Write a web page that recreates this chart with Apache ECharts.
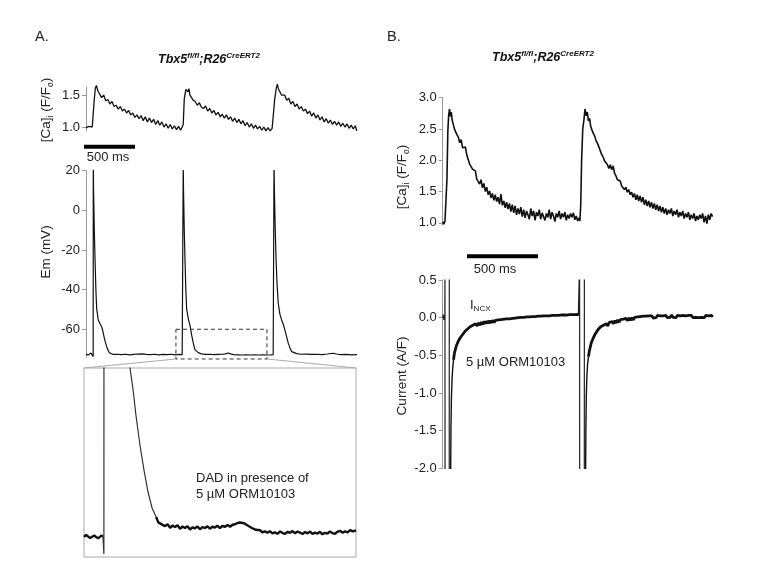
<!DOCTYPE html>
<html>
<head>
<meta charset="utf-8">
<script src="https://cdn.jsdelivr.net/npm/echarts@6/dist/echarts.min.js"></script>
<style>
html,body{margin:0;padding:0;background:#fff;}
#chart{width:757px;height:577px;}
</style>
</head>
<body>
<div id="chart"></div>
<script>
// ---------- DATA (time in ms) ----------
// Panel A: Ca transient [ms, F/Fo]
const caATrace = [[0,1.00],[15,0.97],[30,1.02],[45,0.99],[60,1.01],[70,1.02],[80,1.45],[90,1.62],[100,1.66],[115,1.57],[130,1.53],[150,1.47],[170,1.51],[190,1.42],[210,1.44],[230,1.37],[250,1.41],[270,1.33],[290,1.35],[310,1.29],[330,1.33],[350,1.26],[370,1.29],[390,1.23],[410,1.27],[430,1.20],[450,1.23],[470,1.16],[490,1.20],[510,1.14],[530,1.19],[550,1.11],[570,1.17],[590,1.09],[610,1.15],[630,1.08],[650,1.13],[670,1.05],[690,1.11],[710,1.04],[730,1.09],[750,1.01],[770,1.06],[790,0.99],[810,1.05],[830,0.98],[850,1.03],[870,0.97],[890,1.02],[910,0.96],[925,0.94],[935,1.05],[945,1.45],[960,1.60],[970,1.63],[980,1.56],[990,1.61],[1000,1.51],[1015,1.49],[1030,1.43],[1050,1.41],[1070,1.35],[1090,1.39],[1110,1.32],[1130,1.30],[1150,1.34],[1170,1.26],[1190,1.30],[1210,1.23],[1230,1.27],[1250,1.20],[1270,1.24],[1290,1.17],[1310,1.21],[1330,1.15],[1350,1.20],[1370,1.13],[1390,1.17],[1410,1.10],[1430,1.15],[1450,1.08],[1470,1.13],[1490,1.06],[1510,1.11],[1530,1.03],[1550,1.08],[1570,1.01],[1590,1.06],[1610,0.99],[1630,1.04],[1650,0.98],[1670,1.02],[1690,0.96],[1710,1.01],[1730,0.95],[1750,1.00],[1770,0.95],[1790,0.99],[1805,1.02],[1815,1.45],[1830,1.62],[1840,1.68],[1850,1.61],[1865,1.59],[1880,1.51],[1895,1.50],[1910,1.51],[1930,1.43],[1950,1.46],[1970,1.37],[1990,1.41],[2010,1.33],[2030,1.37],[2050,1.29],[2070,1.33],[2090,1.26],[2110,1.29],[2130,1.22],[2150,1.26],[2170,1.18],[2190,1.23],[2210,1.15],[2230,1.20],[2250,1.12],[2270,1.17],[2290,1.09],[2310,1.14],[2330,1.07],[2350,1.12],[2370,1.05],[2390,1.10],[2410,1.04],[2430,1.09],[2450,1.02],[2470,1.07],[2490,1.01],[2510,1.06],[2530,0.99],[2550,1.04],[2570,0.98],[2590,1.03],[2603,0.95]];
const caATicks = [1.0, 1.5];
const scaleBarA = [[-29,0.70],[471,0.70]];

// Panel A: membrane potential [ms, mV]
const emATrace = [[0,-72.7],[12,-72.5],[24,-72.9],[36,-72.4],[48,-72.0],[58,-72.3],[66,-72.9],[69,-73.8],[70,24],[73,10],[80,-10],[87,-25],[95,-40],[103,-50],[118,-55.3],[135,-57.2],[151,-58.7],[162,-61],[173,-63.7],[186,-66.5],[199,-68.8],[212,-70.6],[224,-71.8],[245,-72.4],[265,-72.7],[300,-72.6],[340,-72.8],[380,-72.6],[420,-72.9],[460,-72.7],[500,-72.5],[540,-72.4],[580,-72.7],[620,-72.8],[660,-72.6],[700,-72.9],[740,-72.7],[780,-72.8],[820,-72.6],[860,-72.9],[900,-72.7],[925,-72.8],[933,-73.8],[935,24],[938,10],[945,-10],[952,-25],[960,-40],[968,-50],[985,-55],[1000,-58],[1016,-63],[1032,-67],[1048,-70.4],[1080,-71.8],[1110,-72.4],[1150,-72.7],[1190,-72.6],[1230,-72.8],[1270,-72.7],[1310,-72.6],[1340,-72.4],[1367,-72.0],[1390,-72.4],[1420,-72.8],[1460,-72.9],[1500,-73],[1540,-72.9],[1580,-73],[1620,-72.9],[1660,-73],[1700,-72.9],[1740,-73],[1780,-72.9],[1800,-72.8],[1806,-73.8],[1808,24],[1812,10],[1820,-10],[1828,-25],[1838,-38],[1849,-47],[1865,-52.5],[1881,-55.3],[1897,-57.5],[1913,-60.4],[1930,-64],[1945,-67],[1962,-69.5],[1978,-71.3],[2026,-72.3],[2070,-72.6],[2120,-72.5],[2170,-72.7],[2220,-72.6],[2270,-72.8],[2320,-72.5],[2375,-72.1],[2410,-72.5],[2450,-72.8],[2500,-72.7],[2550,-72.9],[2606,-72.8]];
const emATicks = [20, 0, -20, -40, -60];
const zoomBox = [[865,-60],[1740,-60],[1740,-75],[865,-75],[865,-60]];

// Inset (zoom of the dashed box) [ms, mV]
const insetBaselineBefore = [[865,-73.41],[872,-73.25],[878,-73.36],[885,-73.50],[891,-73.42],[898,-73.30],[904,-73.38],[910,-73.52],[916,-73.44],[921,-73.30],[926,-73.37]];
const insetSpike = [[926,-73.37],[929,-74.76],[930,25],[1013,-60],[1023,-61.75],[1032,-63.73],[1045,-66.11],[1058,-68.1],[1071,-69.84],[1084,-71.11],[1097,-71.83]];
const insetBaselineAfter = [[1097,-71.83],[1104,-72.25],[1110,-72.15],[1118,-72.45],[1126,-72.55],[1134,-72.40],[1142,-72.68],[1150,-72.50],[1158,-72.62],[1166,-72.48],[1174,-72.76],[1182,-72.58],[1190,-72.70],[1198,-72.56],[1206,-72.82],[1214,-72.64],[1222,-72.72],[1230,-72.58],[1238,-72.80],[1246,-72.62],[1254,-72.70],[1262,-72.56],[1270,-72.76],[1278,-72.60],[1286,-72.66],[1294,-72.52],[1302,-72.70],[1310,-72.54],[1319,-72.60],[1327,-72.46],[1335,-72.60],[1343,-72.44],[1351,-72.40],[1359,-72.30],[1367,-72.26],[1373,-72.36],[1380,-72.32],[1386,-72.46],[1393,-72.52],[1399,-72.62],[1405,-72.70],[1411,-72.80],[1418,-72.84],[1424,-72.94],[1431,-72.88],[1439,-73.04],[1447,-72.96],[1455,-73.08],[1463,-72.96],[1471,-73.12],[1479,-73.04],[1487,-73.16],[1496,-72.98],[1504,-73.10],[1512,-73.16],[1520,-73.00],[1528,-73.08],[1536,-72.94],[1544,-73.12],[1552,-72.98],[1560,-73.06],[1568,-73.18],[1576,-73.02],[1584,-73.12],[1592,-72.98],[1600,-73.16],[1608,-73.06],[1616,-73.14],[1624,-73.00],[1632,-73.20],[1640,-73.08],[1648,-73.14],[1656,-72.98],[1664,-73.10],[1672,-73.16],[1680,-73.00],[1689,-72.92],[1697,-73.08],[1705,-72.96],[1713,-73.04],[1721,-72.86],[1730,-72.96],[1740,-72.90]];

// Panel B: Ca transient [ms, F/Fo]
const caBTrace = [[0,1.02],[8,0.98],[16,1.03],[24,1.05],[30,1.70],[36,2.45],[42,2.72],[48,2.82],[54,2.70],[60,2.77],[68,2.63],[76,2.61],[84,2.49],[92,2.47],[100,2.41],[110,2.37],[120,2.28],[130,2.33],[140,2.20],[150,2.19],[160,2.21],[170,2.08],[180,2.07],[190,1.94],[200,1.93],[210,1.86],[220,1.84],[230,1.83],[240,1.70],[250,1.72],[260,1.62],[270,1.69],[280,1.56],[290,1.63],[300,1.50],[310,1.57],[320,1.45],[330,1.51],[340,1.40],[350,1.47],[360,1.36],[370,1.45],[380,1.34],[390,1.41],[400,1.30],[410,1.46],[420,1.28],[430,1.35],[440,1.24],[450,1.33],[460,1.22],[470,1.31],[480,1.18],[490,1.29],[500,1.16],[510,1.27],[520,1.13],[530,1.23],[540,1.14],[550,1.25],[560,1.10],[570,1.21],[580,1.08],[590,1.19],[600,1.13],[610,1.06],[620,1.23],[630,1.11],[640,1.19],[650,1.04],[660,1.17],[670,1.11],[680,1.21],[690,1.06],[700,1.16],[710,1.19],[720,1.04],[730,1.15],[740,1.09],[750,1.21],[760,1.06],[770,1.17],[780,1.11],[790,1.02],[800,1.15],[810,1.09],[820,1.19],[830,1.06],[840,1.15],[850,1.09],[860,1.17],[870,1.04],[880,1.13],[890,1.07],[900,1.15],[910,1.09],[920,1.16],[930,1.05],[940,1.11],[950,1.03],[960,1.08],[966,1.03],[972,1.30],[978,2.00],[986,2.50],[994,2.64],[1002,2.82],[1010,2.71],[1018,2.77],[1026,2.63],[1034,2.67],[1042,2.54],[1050,2.51],[1060,2.43],[1070,2.39],[1080,2.31],[1090,2.27],[1100,2.21],[1110,2.15],[1120,2.09],[1130,2.05],[1140,1.99],[1150,1.97],[1160,1.93],[1170,1.87],[1180,1.93],[1190,1.85],[1200,1.91],[1210,1.79],[1220,1.75],[1230,1.69],[1240,1.67],[1250,1.67],[1260,1.59],[1270,1.59],[1280,1.53],[1290,1.57],[1300,1.49],[1310,1.53],[1320,1.45],[1330,1.49],[1340,1.41],[1350,1.47],[1360,1.37],[1370,1.45],[1380,1.35],[1390,1.43],[1400,1.33],[1410,1.41],[1420,1.29],[1430,1.37],[1440,1.27],[1450,1.35],[1460,1.25],[1470,1.33],[1480,1.23],[1490,1.31],[1500,1.21],[1510,1.29],[1520,1.19],[1530,1.27],[1540,1.17],[1550,1.25],[1560,1.15],[1570,1.23],[1580,1.13],[1590,1.21],[1600,1.15],[1610,1.23],[1620,1.11],[1630,1.19],[1640,1.13],[1650,1.21],[1660,1.09],[1670,1.17],[1680,1.11],[1690,1.19],[1700,1.07],[1710,1.15],[1720,1.09],[1730,1.17],[1740,1.05],[1750,1.13],[1760,1.07],[1770,1.15],[1780,1.03],[1790,1.11],[1800,1.05],[1810,1.13],[1820,1.07],[1830,1.15],[1840,1.01],[1850,1.11],[1860,0.99],[1870,1.13],[1880,1.05],[1890,1.15],[1900,1.10]];
const caBTicks = [1.0, 1.5, 2.0, 2.5, 3.0];
const scaleBarB = [[171,0.467],[671,0.467]];

// Panel B: I_NCX current [ms, A/F]
const curBTransients = [[0,0.0],[4,0.04],[8,-0.03],[12,0.03],[15,0.0],[16,0.75],[16.5,-2.3],[46,-2.3],[46.5,0.75],[48,'-'],[955,0.03],[960,0.02],[964,0.75],[964.5,-2.3],[997,-2.3],[997.5,0.75]];
const curBRise1 = [[56,-2.05],[58,-1.5],[61,-1.1],[65,-0.85],[70,-0.68],[76,-0.56]];
const curBRecovery1 = [[76,-0.56],[82,-0.48],[88,-0.43],[95,-0.38],[102,-0.36],[110,-0.31],[118,-0.31],[126,-0.26],[134,-0.26],[142,-0.22],[150,-0.22],[158,-0.18],[166,-0.19],[175,-0.15],[184,-0.17],[193,-0.12],[202,-0.14],[212,-0.10],[222,-0.12],[232,-0.08],[242,-0.11],[252,-0.07],[262,-0.10],[272,-0.06],[282,-0.09],[292,-0.05],[302,-0.08],[312,-0.045],[322,-0.075],[332,-0.04],[342,-0.07],[352,-0.035],[362,-0.065],[372,-0.035],[382,-0.06],[392,-0.03],[402,-0.055],[412,-0.025],[422,-0.05],[432,-0.02],[442,-0.045],[452,-0.015],[462,-0.04],[472,-0.015],[482,-0.035],[492,-0.01],[502,-0.035],[512,-0.005],[522,-0.03],[532,0.0],[542,-0.025],[552,0.005],[562,-0.02],[572,0.005],[582,-0.02],[592,0.01],[602,-0.015],[612,0.01],[622,-0.01],[632,0.015],[642,-0.01],[652,0.015],[662,-0.005],[672,0.02],[682,-0.005],[692,0.02],[702,0.0],[712,0.025],[722,0.0],[732,0.025],[742,0.005],[752,0.025],[762,0.005],[772,0.03],[782,0.005],[792,0.03],[802,0.01],[812,0.03],[822,0.01],[832,0.035],[842,0.01],[852,0.035],[862,0.015],[872,0.035],[882,0.015],[892,0.04],[902,0.015],[912,0.04],[922,0.02],[932,0.04],[942,0.02],[952,0.045],[958,0.03]];
const curBRise2 = [[1006,-2.05],[1008,-1.5],[1011,-1.05],[1015,-0.78],[1020,-0.62],[1026,-0.52]];
const curBRecovery2 = [[1026,-0.52],[1032,-0.45],[1038,-0.40],[1045,-0.34],[1052,-0.32],[1060,-0.27],[1068,-0.26],[1076,-0.21],[1084,-0.21],[1093,-0.16],[1102,-0.17],[1112,-0.12],[1122,-0.14],[1132,-0.10],[1142,-0.12],[1152,-0.08],[1162,-0.11],[1172,-0.065],[1182,-0.09],[1192,-0.05],[1202,-0.08],[1212,-0.04],[1222,-0.07],[1232,-0.03],[1242,-0.06],[1252,-0.025],[1262,-0.05],[1272,-0.02],[1282,-0.045],[1292,-0.01],[1302,-0.04],[1312,-0.005],[1322,-0.035],[1332,0.0],[1342,-0.03],[1352,0.005],[1362,-0.02],[1372,0.01],[1382,-0.015],[1392,0.015],[1402,-0.01],[1412,0.02],[1422,-0.005],[1432,0.02],[1442,0.0],[1452,0.025],[1462,0.0],[1472,0.025],[1482,-0.005],[1492,0.02],[1502,0.0],[1512,0.03],[1522,0.005],[1532,0.025],[1542,0.0],[1552,0.025],[1562,0.005],[1572,0.03],[1582,0.0],[1592,0.025],[1602,0.005],[1612,0.035],[1622,0.005],[1632,0.025],[1642,0.0],[1652,0.03],[1662,0.005],[1672,0.025],[1682,0.0],[1692,0.03],[1702,0.005],[1712,0.025],[1722,0.0],[1732,0.03],[1742,0.005],[1752,0.03],[1762,0.0],[1772,0.025],[1782,0.005],[1792,0.03],[1802,0.0],[1812,0.025],[1822,0.005],[1832,0.03],[1842,0.0],[1852,0.03],[1862,0.005],[1872,0.025],[1882,0.0],[1892,0.03],[1902,0.01]];
const curBTicks = [0.5, 0.0, -0.5, -1.0, -1.5, -2.0];

// ---------- CHART ----------
const FONT = "'Liberation Sans', Arial, Helvetica, sans-serif";
const TXT = '#222';
const chart = echarts.init(document.getElementById('chart'), null, {renderer: 'canvas'});

function yAx(gridIndex, min, max, ticks, dec) {
  return {
    type: 'value', gridIndex, min, max,
    splitLine: {show: false},
    axisLine: {show: true, lineStyle: {color: '#999', width: 1}},
    axisTick: {show: true, length: 4, lineStyle: {color: '#999'}, customValues: ticks},
    axisLabel: {show: true, customValues: ticks, margin: 6, color: TXT, fontSize: 13, fontFamily: FONT,
      formatter: v => Number(v).toFixed(dec)}
  };
}
function yHidden(gridIndex, min, max) {
  return {type: 'value', gridIndex, min, max, show: false, splitLine: {show: false}};
}
function xHidden(gridIndex, min, max) {
  return {type: 'value', gridIndex, min, max, show: false, splitLine: {show: false}};
}
function line(idx, data, width, extra) {
  return Object.assign({
    type: 'line', xAxisIndex: idx, yAxisIndex: idx, data, showSymbol: false, symbol: 'none',
    animation: false, silent: true, connectNulls: false,
    lineStyle: {color: '#111', width}
  }, extra || {});
}

const supTitle = {
  a: {fontSize: 12.5, fontWeight: 'bold', fontStyle: 'italic', fontFamily: FONT, fill: '#111', lineHeight: 16},
  s: {fontSize: 8, fontWeight: 'bold', fontStyle: 'italic', fontFamily: FONT, fill: '#111', verticalAlign: 'top'}
};
const subRich = {
  a: {fontSize: 13.5, fontFamily: FONT, fill: TXT, lineHeight: 18},
  b: {fontSize: 8.5, fontFamily: FONT, fill: TXT, verticalAlign: 'bottom'}
};

function txt(id, x, y, text, opts) {
  const o = opts || {};
  return {
    id, type: 'text', x, y, rotation: o.rotation || 0, silent: true,
    style: Object.assign({
      text, fill: TXT, fontSize: o.fontSize || 13, fontFamily: FONT,
      align: o.align || 'center', verticalAlign: 'middle',
      textAlign: o.align || 'center', textVerticalAlign: 'middle'
    }, o.rich ? {rich: o.rich} : {}, o.style || {})
  };
}

const graphics = [
  txt('lblA', 35, 37, 'A.', {fontSize: 14.5, align: 'left'}),
  txt('lblB', 387, 37, 'B.', {fontSize: 14.5, align: 'left'}),
  txt('titA', 209, 60, '{a|Tbx5}{s|fl/fl}{a|;R26}{s|CreERT2}', {rich: supTitle}),
  txt('titB', 543, 58, '{a|Tbx5}{s|fl/fl}{a|;R26}{s|CreERT2}', {rich: supTitle}),
  txt('yA1', 46, 110, '{a|[Ca]}{b|i}{a| (F/F}{b|o}{a|)}', {rotation: Math.PI / 2, rich: subRich}),
  txt('yA2', 46, 252, 'Em (mV)', {rotation: Math.PI / 2, fontSize: 13.5}),
  txt('yB1', 402, 177, '{a|[Ca]}{b|i}{a| (F/F}{b|o}{a|)}', {rotation: Math.PI / 2, rich: subRich}),
  txt('yB2', 402, 376, 'Current (A/F)', {rotation: Math.PI / 2, fontSize: 13.5}),
  txt('sbA', 108, 157, '500 ms', {fontSize: 13}),
  txt('sbB', 495, 269, '500 ms', {fontSize: 13}),
  txt('dad1', 196, 478, 'DAD in presence of', {fontSize: 13, align: 'left'}),
  txt('dad2', 196, 494, '5 µM ORM10103', {fontSize: 13, align: 'left'}),
  txt('incx', 470, 305, '{a|I}{b|NCX}', {align: 'left', rich: {
    a: {fontSize: 13, fontFamily: FONT, fill: TXT, lineHeight: 16},
    b: {fontSize: 8, fontFamily: FONT, fill: TXT, verticalAlign: 'bottom'}}}),
  txt('orm', 466, 362, '5 µM ORM10103', {fontSize: 13, align: 'left'})
];

const option = {
  backgroundColor: '#fff',
  animation: false,
  grid: [
    {left: 86, top: 87, width: 271, height: 44},
    {left: 86, top: 170.7, width: 271, height: 186.3},
    {left: 84, top: 368, width: 272, height: 189, show: true, borderColor: '#aaa', borderWidth: 1, backgroundColor: 'transparent'},
    {left: 442.7, top: 97.7, width: 271, height: 127.5},
    {left: 442.7, top: 280, width: 271, height: 188.3}
  ],
  xAxis: [
    xHidden(0, 0, 2606),
    xHidden(1, 0, 2606),
    xHidden(2, 865, 1740),
    xHidden(3, 0, 1908),
    xHidden(4, 0, 1908)
  ],
  yAxis: [
    yAx(0, 0.948, 1.636, caATicks, 1),
    yAx(1, -74, 20, emATicks, 0),
    yHidden(2, -75, -60),
    yAx(3, 0.963, 3.0, caBTicks, 1),
    yAx(4, -2.0, 0.5, curBTicks, 1)
  ],
  series: [
    line(0, caATrace, 1.3, {clip: false}),
    line(0, scaleBarA, 4, {clip: false, lineStyle: {color: '#000', width: 4, cap: 'butt'}}),
    line(1, emATrace, 1.2, {clip: true}),
    line(1, zoomBox, 1, {clip: false, lineStyle: {color: '#333', width: 1, type: [4, 3]}}),
    line(2, insetBaselineBefore, 2.4, {clip: true}),
    line(2, insetSpike, 1.2, {clip: true, lineStyle: {color: '#333', width: 1.2}}),
    line(2, insetBaselineAfter, 2.4, {clip: true}),
    line(3, caBTrace, 1.6, {clip: false}),
    line(3, scaleBarB, 4, {clip: false, lineStyle: {color: '#000', width: 4, cap: 'butt'}}),
    line(4, curBTransients, 1.2, {clip: true, lineStyle: {color: '#222', width: 1.2}}),
    line(4, curBRise1, 1.4, {clip: true}),
    line(4, curBRecovery1, 2.8, {clip: true}),
    line(4, curBRise2, 1.4, {clip: true}),
    line(4, curBRecovery2, 2.8, {clip: true})
  ],
  graphic: graphics
};
chart.setOption(option);

// zoom connector lines from dashed box corners to inset corners
const bl = chart.convertToPixel({gridIndex: 1}, [zoomBox[3][0], zoomBox[3][1]]);
const br = chart.convertToPixel({gridIndex: 1}, [zoomBox[2][0], zoomBox[2][1]]);
const il = chart.convertToPixel({gridIndex: 2}, [865, -60]);
const ir = chart.convertToPixel({gridIndex: 2}, [1740, -60]);
chart.setOption({
  graphic: graphics.concat([
    {id: 'conL', type: 'line', silent: true, shape: {x1: bl[0], y1: bl[1], x2: il[0], y2: il[1]}, style: {stroke: '#aaa', lineWidth: 1}},
    {id: 'conR', type: 'line', silent: true, shape: {x1: br[0], y1: br[1], x2: ir[0], y2: ir[1]}, style: {stroke: '#aaa', lineWidth: 1}}
  ])
});
</script>
</body>
</html>
